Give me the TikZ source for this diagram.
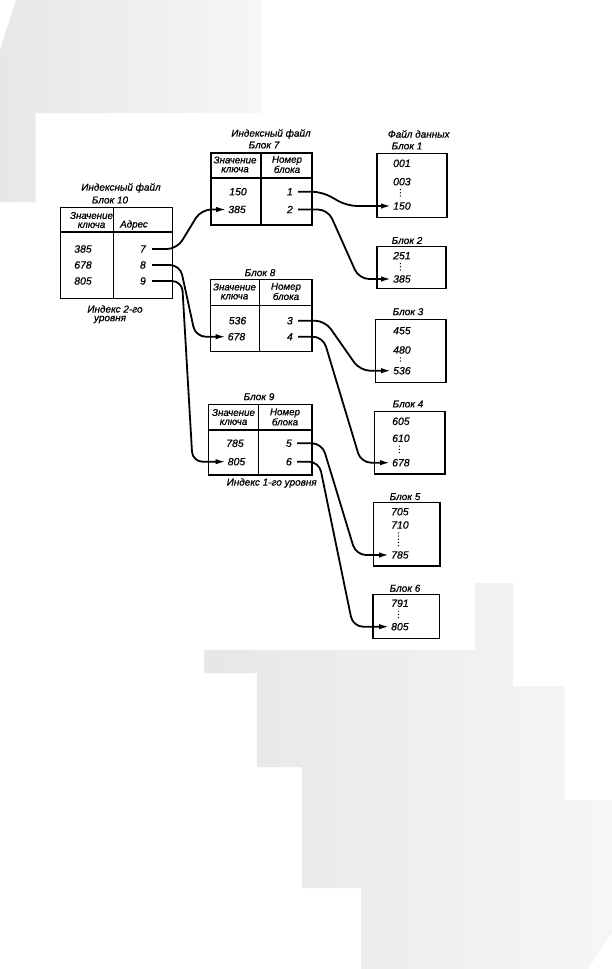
\documentclass[tikz,border=0pt]{standalone}
\usepackage{fontspec}
\setmainfont{Liberation Sans}[ItalicFeatures={FakeBold=0.7}]
\usetikzlibrary{arrows.meta}
\begin{document}
\begin{tikzpicture}[x=1bp,y=-1bp,
  num/.style={font=\fontsize{10.5}{10.5}\selectfont\itshape, inner sep=0pt},
  dnum/.style={num, anchor=west},
  bnum/.style={num, anchor=east},
  ttl/.style={font=\fontsize{10}{10}\selectfont\itshape, inner sep=0pt, align=center},
  hdr/.style={font=\fontsize{9.8}{9}\selectfont\itshape, inner sep=0pt, align=center},
  frame/.style={draw, line width=1.3bp},
  arr/.style={line width=1.8bp, rounded corners=10bp, -{Latex[length=10bp,width=5.5bp]}},
  vdots/.style={line width=1.4bp, dash pattern=on 0bp off 3.2bp, line cap=round},
  bgshade/.style={left color=gray!19, right color=gray!7}
]
\useasboundingbox (0,0) rectangle (612,969);
\fill[white] (0,0) rectangle (612,969);
% background shapes
\shade[bgshade] (16,0) -- (261,0) -- (261,113) -- (35.7,113) -- (35.7,202) -- (0,202) -- (0,50) -- cycle;
\shade[bgshade] (204,650) -- (475,650) -- (475,583) -- (513,583) -- (513,686) -- (565,686) -- (565,800)
  -- (612,800) -- (612,933) -- (588,969) -- (361,969) -- (361,888) -- (302,888) -- (302,767)
  -- (257,767) -- (257,673) -- (204,673) -- cycle;

% ---------- Block 10 ----------
\node[ttl] (t10a) at (121,188) {Индексный файл};
\node[ttl] (t10b) at (110,200) {Блок 10};
\draw[frame] (60.7,207.3) rectangle (172.7,298.3);
\draw[frame] (60.7,232) -- (172.7,232) (113.3,207.3) -- (113.3,298.3);
\node[hdr] (h10a) at (91.5,220) {Значение\\ключа};
\node[hdr] (h10b) at (134,225) {Адрес};
\node[num] (b10k385) at (83,249) {385};
\node[num] (b10k678) at (83,265) {678};
\node[num] (b10k805) at (83,281) {805};
\node[bnum] (b10n7) at (146,249) {7};
\node[bnum] (b10n8) at (146,265) {8};
\node[bnum] (b10n9) at (146,281) {9};
\node[ttl] (l2a) at (115,309) {Индекс 2-го};
\node[ttl] (l2b) at (110,319.5) {уровня};

% ---------- Block 7 ----------
\node[ttl] (t7a) at (271,134) {Индексный файл};
\node[ttl] (t7b) at (264,145) {Блок 7};
\draw[frame] (211,153) rectangle (312,225);
\draw[frame] (211,178) -- (312,178) (261,153) -- (261,225);
\node[hdr] (h7a) at (235,164.5) {Значение\\ключа};
\node[hdr] (h7b) at (287,164.5) {Номер\\блока};
\node[num] (b7k150) at (238,191.7) {150};
\node[num] (b7k385) at (237,209.5) {385};
\node[bnum] (b7n1) at (293,191.7) {1};
\node[bnum] (b7n2) at (293,209.5) {2};

% ---------- Block 8 ----------
\node[ttl] (t8) at (260,272.7) {Блок 8};
\draw[frame] (210.7,279.3) rectangle (312,351.7);
\draw[frame] (210.7,305.3) -- (312,305.3) (259.3,279.3) -- (259.3,351.7);
\node[hdr] (h8a) at (234.5,291.5) {Значение\\ключа};
\node[hdr] (h8b) at (286,291.5) {Номер\\блока};
\node[num] (b8k536) at (237.5,320.7) {536};
\node[num] (b8k678) at (236.5,336.7) {678};
\node[bnum] (b8n3) at (293,320.7) {3};
\node[bnum] (b8n4) at (293,336.7) {4};

% ---------- Block 9 ----------
\node[ttl] (t9) at (259,396.7) {Блок 9};
\draw[frame] (208.3,404.3) rectangle (312,475);
\draw[frame] (208.3,430) -- (312,430) (258.3,404.3) -- (258.3,475);
\node[hdr] (h9a) at (233.5,417) {Значение\\ключа};
\node[hdr] (h9b) at (285,417) {Номер\\блока};
\node[num] (b9k785) at (235,443.3) {785};
\node[num] (b9k805) at (236.5,461.7) {805};
\node[bnum] (b9n5) at (292,443.3) {5};
\node[bnum] (b9n6) at (292,461.7) {6};
\node[ttl] (l1) at (271.7,483) {Индекс 1-го уровня};

% ---------- Data file ----------
\node[ttl] (tdf) at (418.7,134) {Файл данных};
\node[ttl] (td1) at (407,146) {Блок 1};
\draw[frame] (377,153.3) rectangle (447,217.7);
\node[dnum] (d1v001) at (393,163.3) {001};
\node[dnum] (d1v003) at (393,181.7) {003};
\node[dnum] (d1v150) at (393,206) {150};
\draw[vdots] ([xshift=-1.5bp,yshift=-4bp]d1v003.south) -- ([xshift=-1.5bp,yshift=3bp]d1v150.north);

\node[ttl] (td2) at (407,240.5) {Блок 2};
\draw[frame] (377,246.7) rectangle (446,288.3);
\node[dnum] (d2v251) at (393,255.7) {251};
\node[dnum] (d2v385) at (393,279) {385};
\draw[vdots] ([xshift=-1.5bp,yshift=-4bp]d2v251.south) -- ([xshift=-1.5bp,yshift=3bp]d2v385.north);

\node[ttl] (td3) at (408,311.7) {Блок 3};
\draw[frame] (375.7,319.3) rectangle (446,382.7);
\node[dnum] (d3v455) at (393,330.7) {455};
\node[dnum] (d3v480) at (393,350) {480};
\node[dnum] (d3v536) at (393,370.7) {536};
\draw[vdots] ([xshift=-1.5bp,yshift=-4bp]d3v480.south) -- ([xshift=-1.5bp,yshift=3bp]d3v536.north);

\node[ttl] (td4) at (408,404) {Блок 4};
\draw[frame] (374.3,411.7) rectangle (445,474);
\node[dnum] (d4v605) at (392,421.3) {605};
\node[dnum] (d4v610) at (392,438.3) {610};
\node[dnum] (d4v678) at (392,462.7) {678};
\draw[vdots] ([xshift=-1.5bp,yshift=-4bp]d4v610.south) -- ([xshift=-1.5bp,yshift=3bp]d4v678.north);

\node[ttl] (td5) at (405,496.7) {Блок 5};
\draw[frame] (373.3,502.7) rectangle (440,566);
\node[dnum] (d5v705) at (391,511.7) {705};
\node[dnum] (d5v710) at (391,525) {710};
\node[dnum] (d5v785) at (391,555) {785};
\draw[vdots] ([xshift=-1.5bp,yshift=-4bp]d5v710.south) -- ([xshift=-1.5bp,yshift=3bp]d5v785.north);

\node[ttl] (td6) at (405,588.3) {Блок 6};
\draw[frame] (373,594.3) rectangle (439.5,638.3);
\node[dnum] (d6v791) at (391,603.3) {791};
\node[dnum] (d6v805) at (391,626.7) {805};
\draw[vdots] ([xshift=-1.5bp,yshift=-4bp]d6v791.south) -- ([xshift=-1.5bp,yshift=3bp]d6v805.north);

% ---------- Arrows ----------
\draw[arr] ([xshift=6bp]b10n7.east) -- ++(25,0) -- ([xshift=-27bp]b7k385.west) -- ([xshift=-2bp]b7k385.west);
\draw[arr] ([xshift=6bp]b10n8.east) -- ++(28,0) -- ([xshift=-32bp]b8k678.west) -- ([xshift=-2bp]b8k678.west);
\draw[arr] ([xshift=6bp]b10n9.east) -- ++(30,0) -- ([xshift=-35bp]b9k805.west) -- ([xshift=-2bp]b9k805.west);

\draw[arr] ([xshift=5bp]b7n1.east) -- ++(24,0) -- ([xshift=-46bp]d1v150.west) -- ([xshift=-2bp]d1v150.west);
\draw[arr] ([xshift=5bp]b7n2.east) -- ++(30,0) -- ([xshift=-34bp]d2v385.west) -- ([xshift=-2bp]d2v385.west);
\draw[arr] ([xshift=5bp]b8n3.east) -- ++(27,0) -- ([xshift=-33bp]d3v536.west) -- ([xshift=-2bp]d3v536.west);
\draw[arr] ([xshift=5bp]b8n4.east) -- ++(25,0) -- ([xshift=-31bp]d4v678.west) -- ([xshift=-2bp]d4v678.west);
\draw[arr] ([xshift=5bp]b9n5.east) -- ++(25,0) -- ([xshift=-35bp]d5v785.west) -- ([xshift=-2bp]d5v785.west);
\draw[arr] ([xshift=5bp]b9n6.east) -- ++(22,0) -- ([xshift=-38bp]d6v805.west) -- ([xshift=-2bp]d6v805.west);
\end{tikzpicture}
\end{document}
